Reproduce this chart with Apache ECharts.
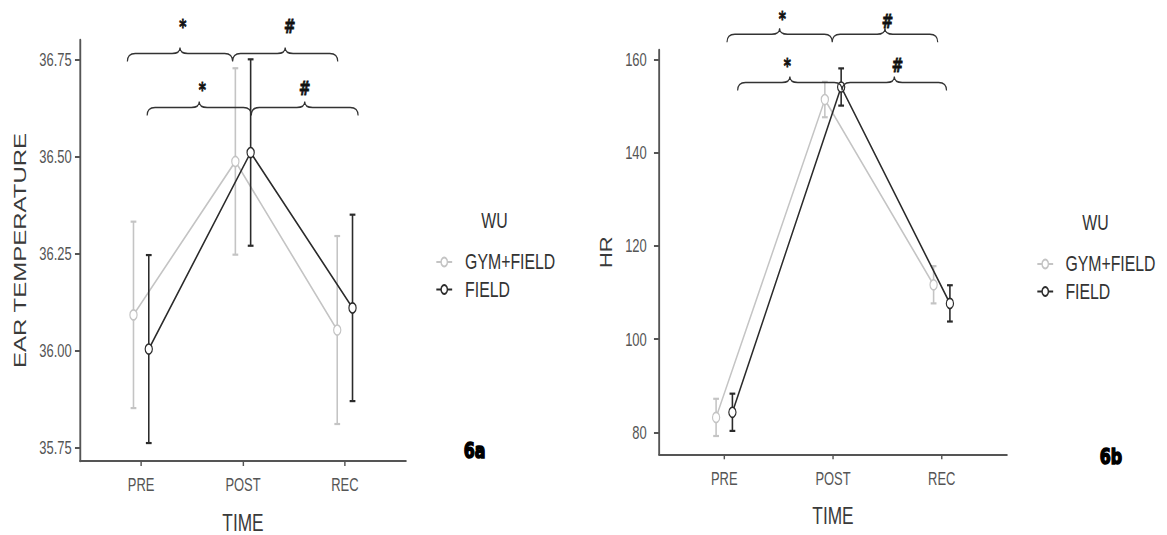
<!DOCTYPE html>
<html><head><meta charset="utf-8">
<script src="https://cdn.jsdelivr.net/npm/echarts@6/dist/echarts.min.js"></script>
<style>
html,body{margin:0;padding:0;overflow:hidden;background:#fff;width:1167px;height:535px}
#chart{height:535px;transform-origin:0 0;}
</style></head><body><div id="chart"></div>
<script>
// ---- data ----
const categories = ['PRE', 'POST', 'REC'];
const groupNames = ['GYM+FIELD', 'FIELD'];
const earGymMean = [36.092, 36.487, 36.053];
const earGymErr = [0.240, 0.240, 0.242];
const earFieldMean = [36.004, 36.510, 36.110];
const earFieldErr = [0.242, 0.240, 0.240];
const hrGymMean = [83.2, 151.5, 111.7];
const hrGymErr = [4.0, 3.8, 4.0];
const hrFieldMean = [84.3, 154.2, 107.7];
const hrFieldErr = [4.0, 4.0, 3.9];
const earTicks = [35.75, 36.00, 36.25, 36.50, 36.75];
const hrTicks = [80, 100, 120, 140, 160];
// significance brackets (data units): [start, join, end, level]
const earBrackets = [[0.865, 1.898, 2.93, 36.765], [1.059, 2.082, 3.13, 36.626]];
const earMarks = [[1.409, 36.847, '*'], [2.458, 36.834, '#'], [1.600, 36.684, '*'], [2.606, 36.675, '#']];
const hrBrackets = [[1.025, 1.993, 2.963, 165.52], [1.123, 2.084, 3.044, 155.17]];
const hrMarks = [[1.535, 170.03, '*'], [2.502, 168.23, '#'], [1.581, 159.79, '*'], [2.593, 158.78, '#']];

// ---- layout / style ----
const S = 0.72; // horizontal squeeze of the figure
const X = px => px / S;
const DODGE = 0.075;
const GRAY = '#c4c4c4', DARK = '#2b2b2b', AXIS = '#555';
const FONT = 'Liberation Sans';

const dom = document.getElementById('chart');
dom.style.width = (1167 / S) + 'px';
dom.style.transform = 'scaleX(' + S + ')';
const chart = echarts.init(dom, null, {renderer: 'svg'});

function lineSeries(name, idx, means, offset, color, z) {
  return {type: 'line', name, xAxisIndex: idx, yAxisIndex: idx, z,
    data: means.map((m, i) => [i + 1 + offset, m]),
    symbol: 'circle', symbolSize: 10, showSymbol: true,
    itemStyle: {color: '#fff', borderColor: color, borderWidth: 1.6},
    lineStyle: {color, width: 2}, emphasis: {disabled: true}};
}
function errSeries(id, idx, means, errs, offset, color, z) {
  return {type: 'custom', name: id, xAxisIndex: idx, yAxisIndex: idx, z, silent: true,
    data: means.map((m, i) => [i + 1 + offset, m - errs[i], m + errs[i]]),
    encode: {x: 0, y: [1, 2]},
    renderItem(params, api) {
      const lo = api.coord([api.value(0), api.value(1)]);
      const hi = api.coord([api.value(0), api.value(2)]);
      const w = 4, st = {stroke: color, lineWidth: 2.2};
      return {type: 'group', children: [
        {type: 'line', shape: {x1: lo[0], y1: lo[1], x2: hi[0], y2: hi[1]}, style: st},
        {type: 'line', shape: {x1: lo[0] - w, y1: lo[1], x2: lo[0] + w, y2: lo[1]}, style: st},
        {type: 'line', shape: {x1: hi[0] - w, y1: hi[1], x2: hi[0] + w, y2: hi[1]}, style: st}
      ]};
    }};
}
function bracketSeries(id, idx, brackets) {
  return {type: 'custom', name: id, xAxisIndex: idx, yAxisIndex: idx, z: 6, silent: true, clip: false,
    data: brackets.map(b => [b[0], b[3]]),
    encode: {x: 0, y: 1},
    renderItem(params, api) {
      const b = brackets[params.dataIndex];
      const pL = api.coord([b[0], b[3]]), pJ = api.coord([b[1], b[3]]), pR = api.coord([b[2], b[3]]);
      const y = pL[1], drop = 8, rise = 6, r = 11;
      const half = (a, c) => {
        const m = (a + c) / 2;
        return 'M' + a + ' ' + (y + drop) + ' Q' + a + ' ' + y + ' ' + (a + r) + ' ' + y +
          ' L' + (m - r) + ' ' + y + ' Q' + m + ' ' + y + ' ' + m + ' ' + (y - rise) +
          ' Q' + m + ' ' + y + ' ' + (m + r) + ' ' + y +
          ' L' + (c - r) + ' ' + y + ' Q' + c + ' ' + y + ' ' + c + ' ' + (y + drop);
      };
      return {type: 'path', shape: {pathData: half(pL[0], pJ[0]) + ' ' + half(pJ[0], pR[0])},
        style: {fill: 'none', stroke: '#333', lineWidth: 1.6}};
    }};
}
function markSeries(id, idx, marks) {
  return {type: 'custom', name: id, xAxisIndex: idx, yAxisIndex: idx, z: 6, silent: true, clip: false,
    data: marks.map(m => [m[0], m[1]]),
    encode: {x: 0, y: 1},
    renderItem(params, api) {
      const mk = marks[params.dataIndex];
      const p = api.coord([mk[0], mk[1]]);
      return {type: 'text', x: p[0], y: p[1] + (mk[2] === '*' ? 5 : 0),
        style: {text: mk[2], fill: '#111', fontSize: 19, fontWeight: 'bold', fontFamily: 'DejaVu Sans',
          align: 'center', verticalAlign: 'middle', stroke: '#111', lineWidth: 0.8}};
    }};
}

function xAx(i) {
  return {gridIndex: i, type: 'value', min: 0.4, max: 3.6,
    axisLine: {show: true, lineStyle: {color: AXIS, width: 2}},
    axisTick: {show: true, customValues: [1, 2, 3], length: 5, lineStyle: {color: AXIS, width: 2}},
    axisLabel: {customValues: [1, 2, 3], formatter: v => categories[Math.round(v) - 1],
      fontSize: 18, color: '#555', margin: 15, fontFamily: FONT},
    splitLine: {show: false},
    name: 'TIME', nameLocation: 'middle', nameGap: 49,
    nameTextStyle: {fontSize: 24, color: '#3a3a3a', fontFamily: FONT}};
}
function yAx(i, min, max, ticks, fmt, name, gap, nameSize, margin) {
  return {gridIndex: i, type: 'value', min, max,
    axisLine: {show: true, lineStyle: {color: AXIS, width: 2.6}},
    axisTick: {show: true, customValues: ticks, length: 7, lineStyle: {color: AXIS, width: 2}},
    axisLabel: {customValues: ticks, formatter: fmt, fontSize: 18, color: '#555', margin, fontFamily: FONT},
    splitLine: {show: false},
    name, nameLocation: 'middle', nameGap: gap,
    nameTextStyle: {fontSize: nameSize, color: '#3a3a3a', fontFamily: FONT}};
}
function legendAt(left, top, pad) {
  return {data: groupNames, orient: 'vertical', left, top, itemWidth: 22, itemHeight: 11, itemGap: 5.5,
    selectedMode: false, textStyle: {fontSize: 22, color: '#333', fontFamily: FONT, padding: [0, 0, 0, pad]}};
}
function label(text, x, y, size, weight, color, family, stroke) {
  const st = {text, fontSize: size, fontWeight: weight, fill: color,
    fontFamily: family, align: 'center', verticalAlign: 'middle'};
  if (stroke) { st.stroke = color; st.lineWidth = stroke; }
  return {type: 'text', x, y, style: st};
}

chart.setOption({
  animation: false,
  backgroundColor: '#fff',
  grid: [
    {left: X(80), top: 40, width: X(406) - X(80), height: 421, outerBoundsMode: 'none'},
    {left: X(659), top: 50, width: X(1007) - X(659), height: 404.3, outerBoundsMode: 'none'}
  ],
  xAxis: [xAx(0), xAx(1)],
  yAxis: [
    yAx(0, 35.7158, 36.7997, earTicks, v => v.toFixed(2), 'EAR TEMPERATURE', 72, 24, 11.5),
    yAx(1, 75.27, 162.15, hrTicks, v => String(v), 'HR', 62, 22, 17)
  ],
  legend: [legendAt(X(432), 246, 13), legendAt(X(1033), 248, 12)],
  graphic: [
    label('WU', X(494.5), 220.5, 22, 'normal', '#333', FONT),
    label('WU', X(1095.5), 223, 22, 'normal', '#333', FONT),
    label('6a', X(474.7), 451, 22, 'bold', '#000', 'DejaVu Sans', 1.6),
    label('6b', X(1111), 457, 22, 'bold', '#000', 'DejaVu Sans', 1.6)
  ],
  series: [
    errSeries('ear-gym-err', 0, earGymMean, earGymErr, -DODGE, GRAY, 2),
    lineSeries(groupNames[0], 0, earGymMean, -DODGE, GRAY, 3),
    errSeries('ear-field-err', 0, earFieldMean, earFieldErr, DODGE, DARK, 4),
    lineSeries(groupNames[1], 0, earFieldMean, DODGE, DARK, 5),
    bracketSeries('ear-br', 0, earBrackets),
    markSeries('ear-mk', 0, earMarks),
    errSeries('hr-gym-err', 1, hrGymMean, hrGymErr, -DODGE, GRAY, 2),
    lineSeries(groupNames[0], 1, hrGymMean, -DODGE, GRAY, 3),
    errSeries('hr-field-err', 1, hrFieldMean, hrFieldErr, DODGE, DARK, 4),
    lineSeries(groupNames[1], 1, hrFieldMean, DODGE, DARK, 5),
    bracketSeries('hr-br', 1, hrBrackets),
    markSeries('hr-mk', 1, hrMarks)
  ]
});
</script></body></html>
